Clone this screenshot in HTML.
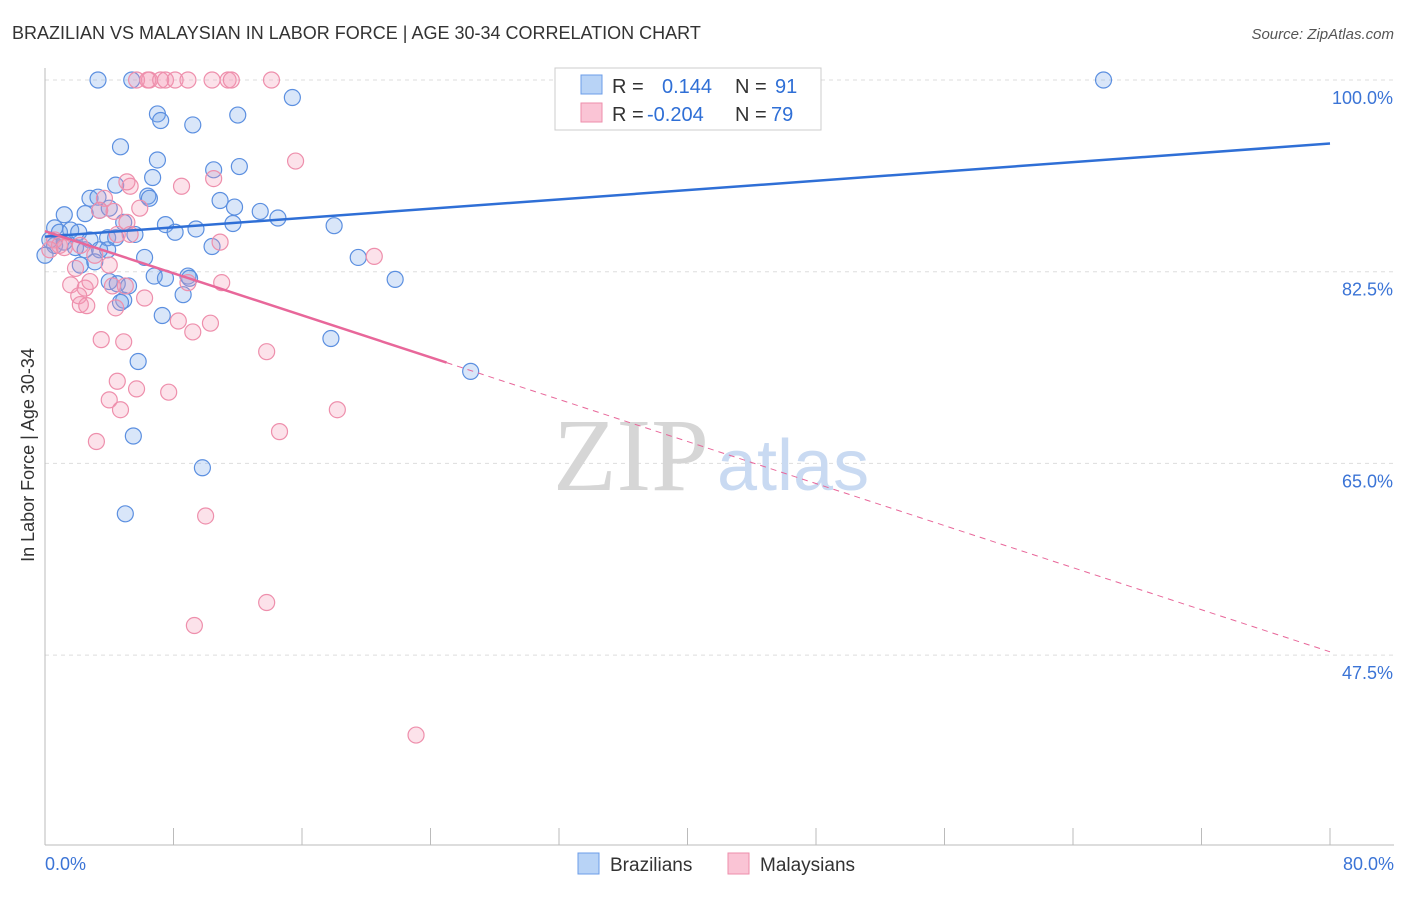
<!DOCTYPE html>
<html><head><meta charset="utf-8"><style>
body{margin:0;background:#fff;font-family:"Liberation Sans",sans-serif;}
svg text{font-family:"Liberation Sans",sans-serif;}
</style></head><body>
<svg width="1406" height="892" xmlns="http://www.w3.org/2000/svg">
<text x="12" y="39" font-size="18" fill="#333" style="font-weight:300">BRAZILIAN VS MALAYSIAN IN LABOR FORCE | AGE 30-34 CORRELATION CHART</text>
<text x="1394" y="39" font-size="15" fill="#555" font-style="italic" text-anchor="end">Source: ZipAtlas.com</text>
<g id="grid"></g>
<g id="axes"></g>
<text x="553" y="490" font-size="104" fill="#d6d6d6" style="font-family:'Liberation Serif',serif">ZIP</text>
<text x="717" y="490" font-size="72" fill="#c9daf2">atlas</text>
<g id="points"></g>
<g id="trends"></g>
<text transform="translate(34,455) rotate(-90)" font-size="18" fill="#333" text-anchor="middle">In Labor Force | Age 30-34</text>
<g>
<rect x="555" y="68" width="266" height="62" fill="#fff" stroke="#ccc"/>
<rect x="581" y="75" width="21" height="19" fill="#b8d3f6" stroke="#6b9de8"/>
<rect x="581" y="103" width="21" height="19" fill="#fac4d5" stroke="#ee8eab"/>
<text x="612" y="93" font-size="20" fill="#333">R =</text><text x="662" y="93" font-size="20" fill="#2f6fd6">0.144</text>
<text x="735" y="93" font-size="20" fill="#333">N =</text><text x="775" y="93" font-size="20" fill="#2f6fd6">91</text>
<text x="612" y="121" font-size="20" fill="#333">R =</text><text x="647" y="121" font-size="20" fill="#2f6fd6">-0.204</text>
<text x="735" y="121" font-size="20" fill="#333">N =</text><text x="771" y="121" font-size="20" fill="#2f6fd6">79</text>
</g>
<g>
<rect x="578" y="853" width="21" height="21" fill="#b8d3f6" stroke="#6b9de8"/>
<text x="610" y="871" font-size="19" fill="#333">Brazilians</text>
<rect x="728" y="853" width="21" height="21" fill="#fac4d5" stroke="#ee8eab"/>
<text x="760" y="871" font-size="19" fill="#333">Malaysians</text>
</g>
</svg>
<script>
const yTicks=[100,82.5,65,47.5];
const yTickLabels=["100.0%","82.5%","65.0%","47.5%"];
const xTickLabels=["0.0%","80.0%"];
const blueX=[3.3,5.4,65.9,15.4,7.0,7.2,9.2,12.0,4.7,7.0,10.5,12.1,4.4,6.7,2.8,3.3,6.4,6.5,10.9,11.8,13.4,14.5,18.0,1.2,2.5,3.4,4.0,4.9,7.5,8.1,9.4,11.7,0.6,0.9,1.6,2.1,2.8,3.9,4.4,5.6,0.3,0.6,1.2,1.9,2.5,3.4,3.9,10.4,6.2,6.8,7.5,8.9,9.0,8.6,19.5,21.8,4.0,4.5,5.2,4.9,4.7,7.3,17.8,5.8,26.5,5.5,9.8,5.0,2.2,3.1,0];
const blueY=[100,100,100,98.4,96.9,96.3,95.9,96.8,93.9,92.7,91.8,92.1,90.4,91.1,89.2,89.3,89.4,89.2,89.0,88.4,88.0,87.4,86.7,87.7,87.8,88.1,88.3,87.0,86.8,86.1,86.4,86.9,86.5,86.1,86.3,86.1,85.4,85.6,85.6,85.9,85.4,84.9,85.2,84.7,84.5,84.5,84.5,84.8,83.8,82.1,81.9,82.1,81.9,80.4,83.8,81.8,81.6,81.4,81.2,79.9,79.7,78.5,76.4,74.3,73.4,67.5,64.6,60.4,83.1,83.4,84.0];
const pinkX=[5.7,6.5,6.4,7.2,7.5,8.1,8.9,10.4,11.4,11.6,14.1,15.6,10.5,8.5,5.3,5.1,3.7,5.9,3.4,4.3,5.1,4.5,10.9,5.3,0.6,0.9,0.3,1.2,2.2,3.1,4.0,1.9,1.6,2.5,2.8,2.1,2.2,2.6,4.2,5.0,6.2,4.4,8.9,11.0,8.3,9.2,10.3,3.5,4.9,13.8,4.5,5.7,7.7,4.0,4.7,18.2,14.6,3.2,10.0,13.8,9.3,23.1,20.5];
const pinkY=[100,100,100,100,100,100,100,100,100,100,100,92.6,91.0,90.3,90.3,90.7,89.2,88.3,88.1,88.0,87.0,85.9,85.2,85.9,85.4,84.9,84.5,84.7,84.9,84.0,83.1,82.8,81.3,81.0,81.6,80.3,79.5,79.4,81.2,81.2,80.1,79.2,81.5,81.5,78.0,77.0,77.8,76.3,76.1,75.2,72.5,71.8,71.5,70.8,69.9,69.9,67.9,67.0,60.2,52.3,50.2,40.2,83.9];
const blueTrend=[85.7,94.2];
const pinkTrend=[86.2,47.8];
const pinkSolidEnd=25;
const X=v=>45+v/80*1285;
const Y=v=>80+(100-v)/17.5*191.7;
const NS="http://www.w3.org/2000/svg";
function mk(t,a,p){const e=document.createElementNS(NS,t);for(const k in a)e.setAttribute(k,a[k]);p.appendChild(e);return e;}
const grid=document.getElementById('grid'),axes=document.getElementById('axes');
yTicks.forEach((t,i)=>{
 const g=mk('line',{x1:45,x2:1394,y1:Y(t),y2:Y(t),stroke:'#ddd','stroke-dasharray':'4,4'},grid);
 
 
 const l=mk('text',{x:1393,y:Y(t)+24,'font-size':18,fill:'#3b74d6','text-anchor':'end'},axes);
 l.textContent=yTickLabels[i];
 
 
});
mk('line',{x1:45,x2:45,y1:68,y2:845,stroke:'#bbb'},axes);
mk('line',{x1:45,x2:1394,y1:845,y2:845,stroke:'#bbb'},axes);
for(let i=0;i<=10;i++){mk('line',{x1:45+i*128.5,x2:45+i*128.5,y1:828,y2:845,stroke:'#bbb'},axes);}
[[45,'start',0],[1394,'end',1]].forEach(([x,a,i])=>{const t=mk('text',{x:x,y:870,'font-size':18,fill:'#3b74d6','text-anchor':a},axes);t.textContent=xTickLabels[i];

});
const pts=document.getElementById('points');
blueX.forEach((v,i)=>{const c=mk('circle',{cx:X(v),cy:Y(blueY[i]),r:8,fill:'rgba(120,165,235,0.28)',stroke:'#5b8fe0','stroke-width':1.2},pts);

});
pinkX.forEach((v,i)=>{const c=mk('circle',{cx:X(v),cy:Y(pinkY[i]),r:8,fill:'rgba(245,150,180,0.28)',stroke:'#ee8fac','stroke-width':1.2},pts);

});
const tr=document.getElementById('trends');
const b=mk('line',{x1:X(0),y1:Y(blueTrend[0]),x2:X(80),y2:Y(blueTrend[1]),stroke:'#2f6fd6','stroke-width':2.5},tr);


const pm=pinkTrend[0]+(pinkTrend[1]-pinkTrend[0])*pinkSolidEnd/80;
const p1=mk('line',{x1:X(0),y1:Y(pinkTrend[0]),x2:X(pinkSolidEnd),y2:Y(pm),stroke:'#e8679a','stroke-width':2.5},tr);


const p2=mk('line',{x1:X(pinkSolidEnd),y1:Y(pm),x2:X(80),y2:Y(pinkTrend[1]),stroke:'#e8679a','stroke-width':1,'stroke-dasharray':'6,5'},tr);


</script>
</body></html>
